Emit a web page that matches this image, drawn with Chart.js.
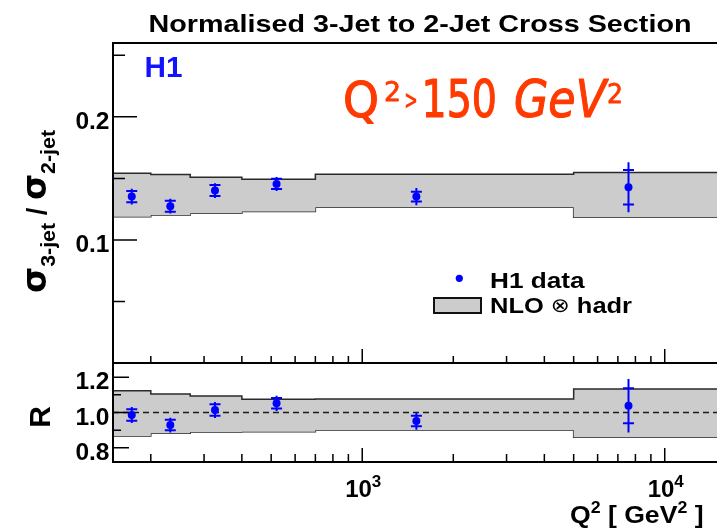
<!DOCTYPE html>
<html>
<head>
<meta charset="utf-8">
<script src="https://cdn.jsdelivr.net/npm/chart.js@4.4.0/dist/chart.umd.min.js"></script>
<style>
  html, body { margin: 0; padding: 0; background: #fff; overflow: hidden; }
  #wrap { position: relative; width: 717px; height: 528px; overflow: hidden; }
  #wrap canvas { position: absolute; left: 0; top: 0; }
</style>
</head>
<body>
<div id="wrap">
  <canvas id="ratioChart" width="730" height="528"></canvas>
  <canvas id="rChart" width="730" height="528"></canvas>
</div>
<script>
// Q^2 binning and bin centres [GeV^2]
const binEdges = [150, 200, 270, 400, 700, 5000, 15000];
const q2Points = [173, 232, 326, 521, 1510, 7590];

// sigma(3-jet) / sigma(2-jet): data with stat and total errors
const ratioValues = [0.1352, 0.1274, 0.1401, 0.1455, 0.1352, 0.1428];
const ratioStat = [0.0045, 0.0045, 0.0045, 0.0042, 0.0040, 0.0140];
const ratioTotal = [0.0064, 0.0060, 0.0060, 0.0057, 0.0070, 0.0203];

// NLO x hadronisation band, per bin
const nloHigh = [0.1542, 0.1531, 0.1510, 0.1493, 0.1534, 0.1547];
const nloLow = [0.1189, 0.1203, 0.1217, 0.1230, 0.1266, 0.1185];

// R = data / theory
const rValues = [0.986, 0.929, 1.014, 1.052, 0.952, 1.038];
const rStat = [0.032, 0.030, 0.033, 0.030, 0.030, 0.099];
const rTotal = [0.045, 0.042, 0.045, 0.043, 0.050, 0.151];
const rHigh = [1.123, 1.105, 1.093, 1.075, 1.076, 1.133];
const rLow = [0.867, 0.882, 0.890, 0.891, 0.901, 0.860];

// axis ticks
const xMajorTicks = [1000, 10000];
const xMinorTicks = [200, 300, 400, 500, 600, 700, 800, 900,
                     2000, 3000, 4000, 5000, 6000, 7000, 8000, 9000];
const xTickLabels = ['3', '4'];
const ratioMajorTicks = [0.1, 0.2];
const ratioMinorTicks = [0.05, 0.15, 0.25];
const ratioTickLabels = ['0.1', '0.2'];
const rMajorTicks = [0.8, 1.0, 1.2];
const rMinorTicks = [0.9, 1.1];
const rTickLabels = ['0.8', '1.0', '1.2'];

const BLUE = '#0000ff';
const BAND_FILL = '#cccccc';
const BAND_LINE = '#2a2a2a';
const SANS = '"Liberation Sans", Arial, Helvetica, sans-serif';
const bold = (px) => `bold ${px}px ${SANS}`;

function stepData(values) {
  const pts = values.map((v, i) => ({ x: binEdges[i], y: v }));
  pts.push({ x: binEdges[binEdges.length - 1], y: values[values.length - 1] });
  return pts;
}

function pointDataset(values) {
  return {
    data: q2Points.map((q, i) => ({ x: q, y: values[i] })),
    showLine: false,
    pointRadius: 4,
    pointBackgroundColor: BLUE,
    pointBorderWidth: 0,
  };
}

function bandDatasets(high, low) {
  return [
    { data: stepData(high), stepped: true, borderColor: BAND_LINE, borderWidth: 1.5,
      pointRadius: 0, fill: '+1', backgroundColor: BAND_FILL },
    { data: stepData(low), stepped: true, borderColor: BAND_LINE, borderWidth: 1.5,
      pointRadius: 0, fill: false },
  ];
}

function panelOptions(padding, yMin, yMax) {
  return {
    responsive: false,
    animation: false,
    devicePixelRatio: 1,
    events: [],
    layout: { padding },
    plugins: { legend: { display: false }, tooltip: { enabled: false } },
    scales: {
      x: { type: 'logarithmic', min: 150, max: 15000, display: false },
      y: { type: 'linear', min: yMin, max: yMax, display: false },
    },
  };
}

// text pieces: [text, font, dy]
function runWidth(ctx, pieces) {
  let w = 0;
  pieces.forEach(([t, f]) => { ctx.font = f; w += ctx.measureText(t).width; });
  return w;
}
function drawRun(ctx, pieces, x, y, color, scaleX = 1, outline = 0) {
  ctx.save();
  ctx.translate(x, y);
  ctx.scale(scaleX, 1);
  ctx.fillStyle = color;
  ctx.strokeStyle = color;
  ctx.lineWidth = outline;
  ctx.lineJoin = 'round';
  ctx.textAlign = 'left';
  ctx.textBaseline = 'alphabetic';
  let cx = 0;
  pieces.forEach(([t, f, dy]) => {
    ctx.font = f;
    ctx.fillText(t, cx, dy || 0);
    if (outline) ctx.strokeText(t, cx, dy || 0);
    cx += ctx.measureText(t).width;
  });
  ctx.restore();
}
function fitRun(ctx, pieces, left, right, y, color, outline = 0) {
  drawRun(ctx, pieces, left, y, color, (right - left) / runWidth(ctx, pieces), outline);
}

function drawErrorBars(chart, values, stat, total) {
  const { ctx, scales: { x, y } } = chart;
  ctx.save();
  ctx.strokeStyle = BLUE;
  ctx.lineWidth = 2;
  q2Points.forEach((q, i) => {
    const px = x.getPixelForValue(q);
    ctx.beginPath();
    ctx.moveTo(px, y.getPixelForValue(values[i] + total[i]));
    ctx.lineTo(px, y.getPixelForValue(values[i] - total[i]));
    [values[i] + stat[i], values[i] - stat[i]].forEach((v) => {
      const py = y.getPixelForValue(v);
      ctx.moveTo(px - 5.5, py);
      ctx.lineTo(px + 5.5, py);
    });
    ctx.stroke();
  });
  ctx.restore();
}

function drawYTicks(ctx, left, scale, major, minor, majorLen, minorLen) {
  ctx.beginPath();
  major.forEach((v) => {
    const py = scale.getPixelForValue(v);
    ctx.moveTo(left, py); ctx.lineTo(left + majorLen, py);
  });
  minor.forEach((v) => {
    const py = scale.getPixelForValue(v);
    ctx.moveTo(left, py); ctx.lineTo(left + minorLen, py);
  });
  ctx.stroke();
}
function drawXTicks(ctx, bottom, scale, majorLen, minorLen) {
  ctx.beginPath();
  xMajorTicks.forEach((v) => {
    const px = scale.getPixelForValue(v);
    ctx.moveTo(px, bottom); ctx.lineTo(px, bottom - majorLen);
  });
  xMinorTicks.forEach((v) => {
    const px = scale.getPixelForValue(v);
    ctx.moveTo(px, bottom); ctx.lineTo(px, bottom - minorLen);
  });
  ctx.stroke();
}
function drawYLabels(ctx, scale, ticks, labels) {
  ctx.save();
  ctx.font = bold(24.5);
  ctx.fillStyle = '#000';
  ctx.textAlign = 'right';
  ctx.textBaseline = 'alphabetic';
  ticks.forEach((v, i) => ctx.fillText(labels[i], 109.5, scale.getPixelForValue(v) + 12));
  ctx.restore();
}

const ratioDecor = {
  id: 'ratioDecor',
  afterDatasetsDraw(chart) {
    drawErrorBars(chart, ratioValues, ratioStat, ratioTotal);
  },
  afterDraw(chart) {
    const { ctx, chartArea: a, scales: { x, y } } = chart;
    ctx.save();
    // frame
    ctx.strokeStyle = '#000';
    ctx.lineWidth = 2;
    ctx.beginPath();
    ctx.moveTo(chart.width, a.top); ctx.lineTo(a.left, a.top);
    ctx.lineTo(a.left, a.bottom); ctx.lineTo(chart.width, a.bottom);
    ctx.stroke();
    ctx.lineWidth = 1.5;
    drawYTicks(ctx, a.left, y, ratioMajorTicks, ratioMinorTicks, 24, 12);
    drawXTicks(ctx, a.bottom, x, 14, 7);
    drawYLabels(ctx, y, ratioMajorTicks, ratioTickLabels);

    // title
    fitRun(ctx, [['Normalised 3-Jet to 2-Jet Cross Section', bold(24.5)]], 148.5, 691.5, 31.7, '#000');

    // experiment tag
    fitRun(ctx, [['H1', bold(30)]], 144.5, 182.5, 77.3, '#1212ff');

    // kinematic range
    const red = '#ff3a00';
    const hand = '"DejaVu Sans", sans-serif';
    fitRun(ctx, [['Q', `50px ${hand}`]], 343, 379, 117.3, red, 1.2);
    fitRun(ctx, [['2', `26px ${hand}`]], 384, 401, 100.5, red, 0.8);
    fitRun(ctx, [['>', `bold 26px ${hand}`]], 404, 418, 108.5, red);
    fitRun(ctx, [['150', `51px ${hand}`]], 421.5, 497, 117.3, red, 1.2);
    fitRun(ctx, [['GeV', `oblique 51px ${hand}`]], 514, 606, 117.3, red, 1.2);
    fitRun(ctx, [['2', `26px ${hand}`]], 607, 623, 103, red, 0.8);

    // y axis title
    ctx.save();
    ctx.translate(46, 293);
    ctx.rotate(-Math.PI / 2);
    const sig = `bold 33px "DejaVu Sans", sans-serif`;
    const yTitle = [
      ['\u03c3', sig], ['3-jet', bold(21), 9], [' / ', bold(27)],
      ['\u03c3', sig], ['2-jet', bold(21), 9],
    ];
    drawRun(ctx, yTitle, 0, 0, '#000', 163 / runWidth(ctx, yTitle));
    ctx.restore();

    // legend
    ctx.fillStyle = BLUE;
    ctx.beginPath();
    ctx.arc(459.3, 278.3, 3.6, 0, Math.PI * 2);
    ctx.fill();
    ctx.fillStyle = BAND_FILL;
    ctx.fillRect(434, 298, 47, 15);
    ctx.strokeStyle = '#111';
    ctx.lineWidth = 2;
    ctx.strokeRect(434, 298, 47, 15);
    fitRun(ctx, [['H1 data', bold(22.5)]], 490, 584.5, 288.3, '#000');
    fitRun(ctx, [['NLO ', bold(22.5)], ['\u2297', `20px "DejaVu Sans", sans-serif`, -1],
                 [' hadr', bold(22.5)]], 490, 632, 313.3, '#000');
    ctx.restore();
  },
};

const rDecor = {
  id: 'rDecor',
  afterDatasetsDraw(chart) {
    drawErrorBars(chart, rValues, rStat, rTotal);
  },
  afterDraw(chart) {
    const { ctx, chartArea: a, scales: { x, y } } = chart;
    ctx.save();
    ctx.strokeStyle = '#000';
    ctx.lineWidth = 2;
    ctx.beginPath();
    ctx.moveTo(a.left, a.top); ctx.lineTo(a.left, a.bottom); ctx.lineTo(chart.width, a.bottom);
    ctx.stroke();
    ctx.lineWidth = 1.5;
    drawYTicks(ctx, a.left, y, rMajorTicks, rMinorTicks, 16, 8);
    drawXTicks(ctx, a.bottom, x, 14, 8);
    drawYLabels(ctx, y, rMajorTicks, rTickLabels);

    // decade labels 10^n
    xMajorTicks.forEach((v, i) => {
      const pieces = [['10', bold(24)], [xTickLabels[i], bold(17), -10]];
      const w = runWidth(ctx, pieces);
      drawRun(ctx, pieces, x.getPixelForValue(v) - w / 2 + 1, 496.7, '#000');
    });

    // x axis title
    fitRun(ctx, [['Q', bold(24)], ['2', bold(16), -10], [' [ GeV', bold(24)],
                 ['2', bold(16), -10], [' ]', bold(24)]], 570, 703.5, 523.3, '#000');

    // y axis title
    ctx.save();
    ctx.translate(50, 417);
    ctx.rotate(-Math.PI / 2);
    ctx.font = bold(30);
    ctx.fillStyle = '#000';
    ctx.textAlign = 'center';
    ctx.fillText('R', 0, 0);
    ctx.restore();
    ctx.restore();
  },
};

new Chart(document.getElementById('ratioChart'), {
  type: 'line',
  data: {
    datasets: [pointDataset(ratioValues), ...bandDatasets(nloHigh, nloLow)],
  },
  options: panelOptions({ left: 113, top: 43, right: 12, bottom: 165 }, 0, 0.26),
  plugins: [ratioDecor],
});

new Chart(document.getElementById('rChart'), {
  type: 'line',
  data: {
    datasets: [
      pointDataset(rValues),
      { data: [{ x: 150, y: 1 }, { x: 15000, y: 1 }], borderColor: '#1a1a1a',
        borderWidth: 1.5, borderDash: [6, 4], pointRadius: 0, fill: false },
      ...bandDatasets(rHigh, rLow),
    ],
  },
  options: panelOptions({ left: 113, top: 363, right: 12, bottom: 66 }, 0.72, 1.28),
  plugins: [rDecor],
});
</script>
</body>
</html>
